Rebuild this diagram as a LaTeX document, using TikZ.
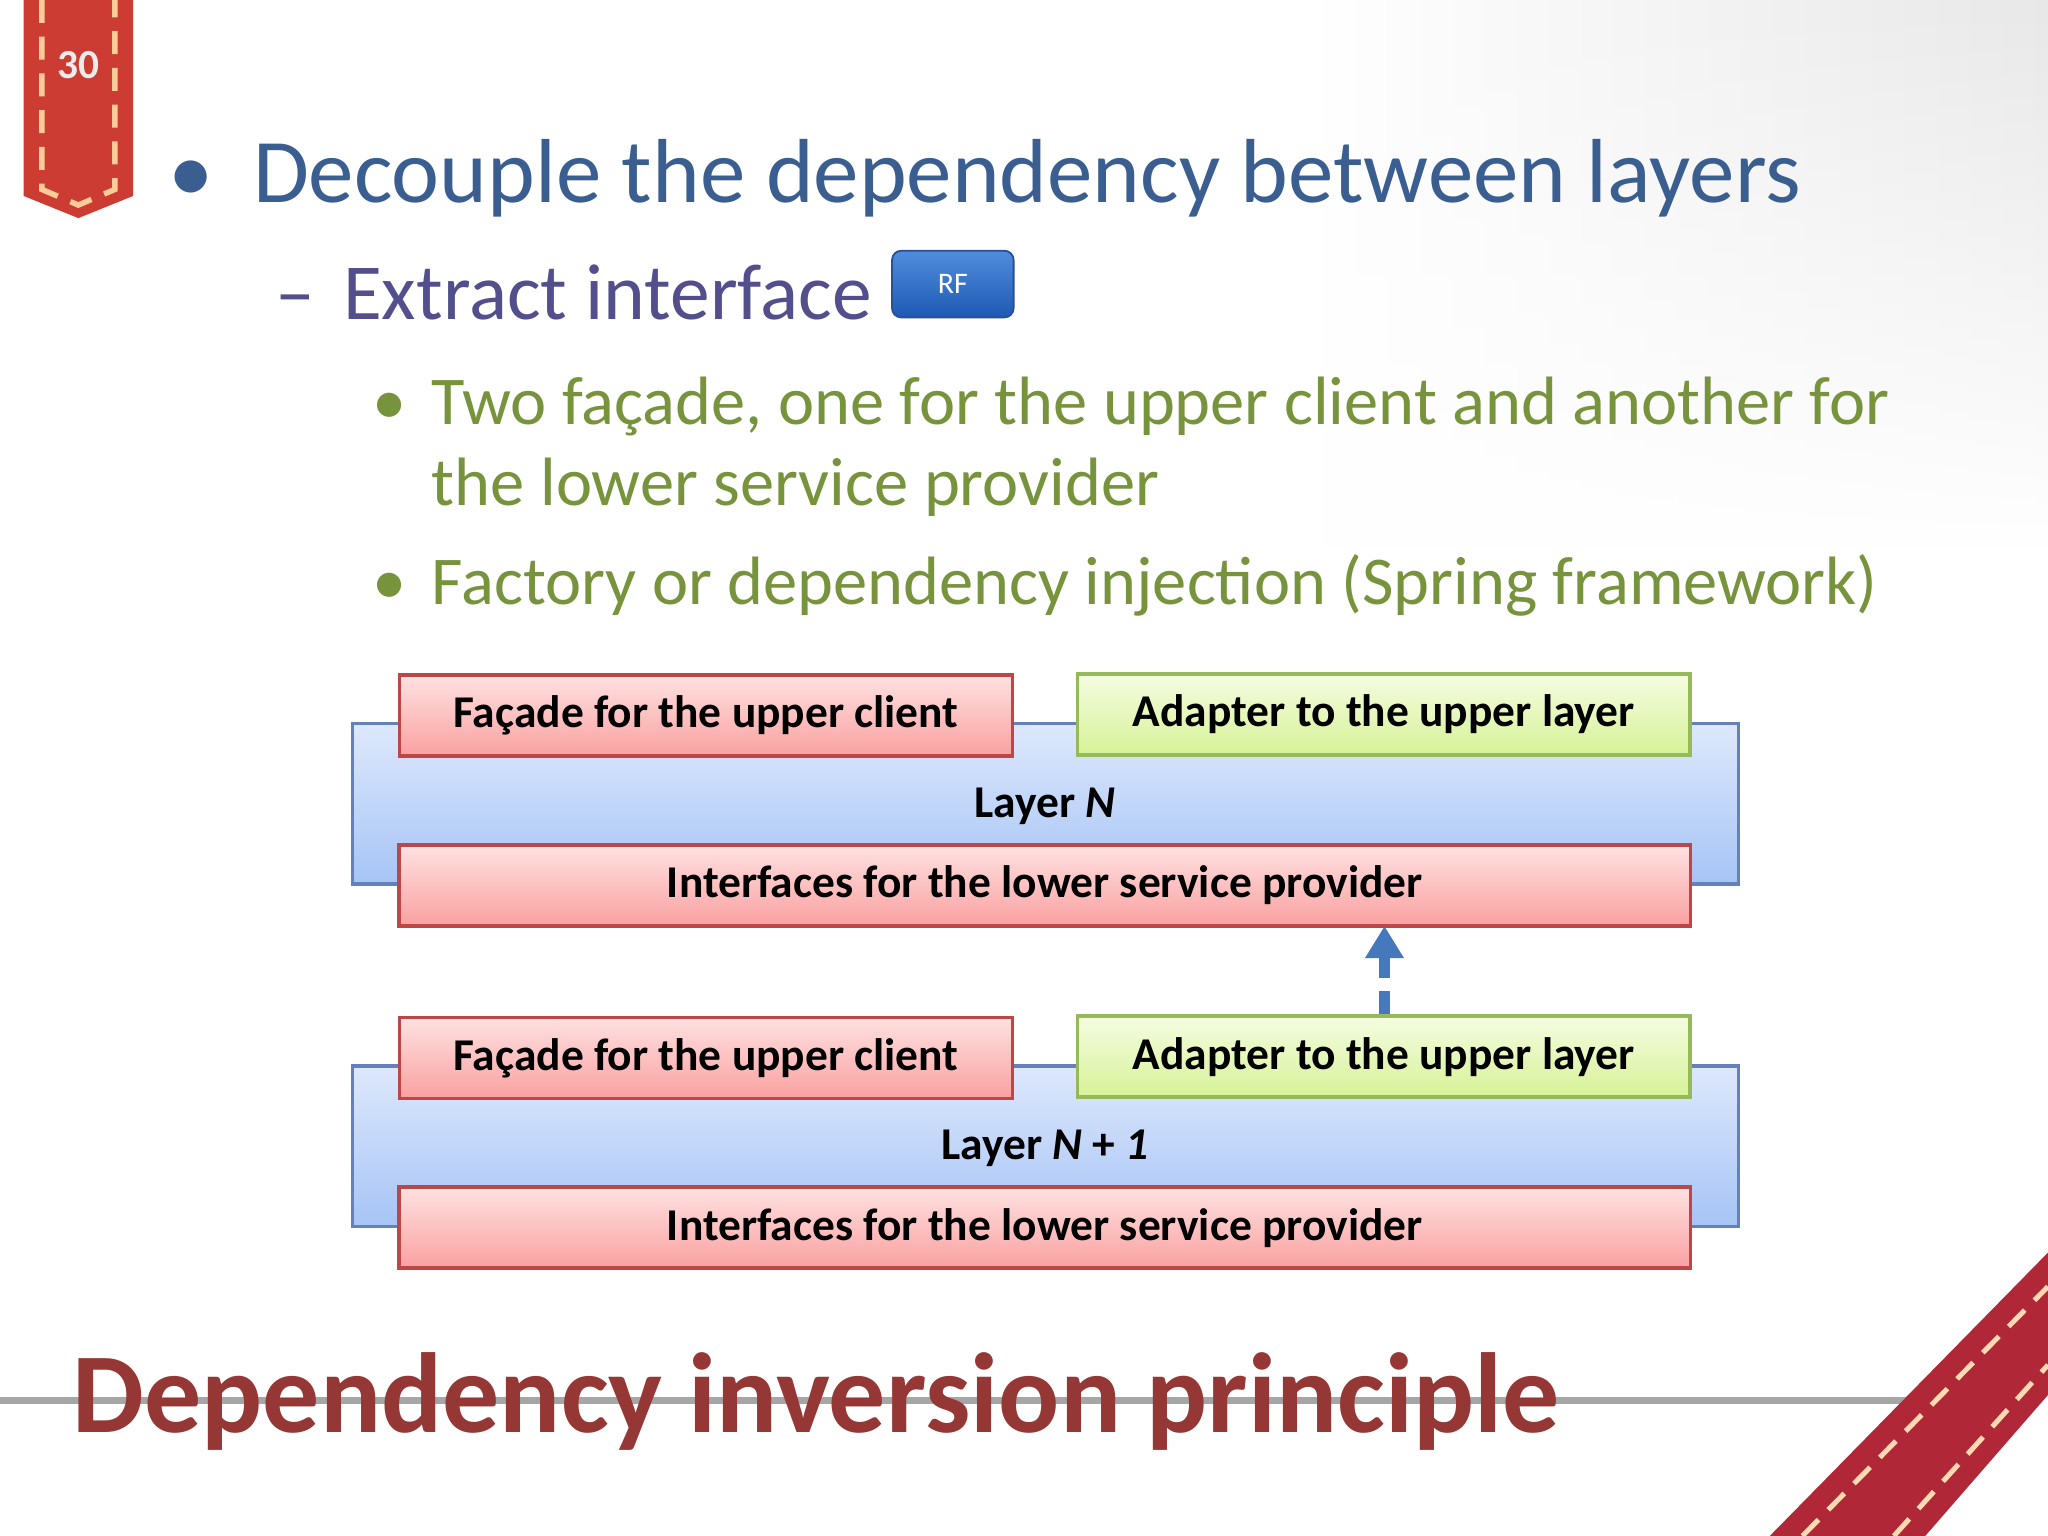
\documentclass[tikz,border=0pt]{standalone}
\usepackage{fontspec}
\setmainfont{Carlito}
\usetikzlibrary{arrows.meta,fadings}
\definecolor{tblue}{RGB}{59,94,145}
\definecolor{tpurple}{RGB}{82,79,140}
\definecolor{tgreen}{RGB}{119,147,60}
\definecolor{tred}{RGB}{149,55,53}
\definecolor{arrblue}{RGB}{70,120,190}
\definecolor{ribred}{RGB}{176,40,55}
\definecolor{ribred2}{RGB}{205,60,50}
\definecolor{rfdark}{RGB}{40,80,150}
\definecolor{rftop}{RGB}{80,140,220}
\definecolor{rfbot}{RGB}{30,90,180}
\definecolor{laytop}{RGB}{222,232,252}
\definecolor{laybot}{RGB}{166,196,245}
\definecolor{layedge}{RGB}{100,130,185}
\definecolor{redtop}{RGB}{255,225,225}
\definecolor{redbot}{RGB}{250,160,160}
\definecolor{rededge}{RGB}{190,70,70}
\definecolor{grtop}{RGB}{245,252,225}
\definecolor{grbot}{RGB}{215,242,150}
\definecolor{gredge}{RGB}{150,185,90}
\begin{document}
\begin{tikzpicture}[x=0.01cm,y=-0.01cm,
  layer/.style={draw=layedge, line width=0.8pt, top color=laytop, bottom color=laybot},
  redbox/.style={draw=rededge, line width=0.8pt, top color=redtop, bottom color=redbot, font=\fontsize{9.9}{12}\selectfont\bfseries, inner sep=0pt, minimum height=0.62cm},
  greenbox/.style={draw=gredge, line width=0.8pt, top color=grtop, bottom color=grbot, font=\fontsize{9.9}{12}\selectfont\bfseries, inner sep=0pt, minimum height=0.62cm},
  ltext/.style={font=\fontsize{9.9}{12}\selectfont\bfseries}]
\useasboundingbox (0,0) rectangle (1568,1176);
\fill[white] (0,0) rectangle (1568,1176);
\shade[left color=white, right color=gray!18, path fading=south] (1000,0) rectangle (1568,420);
% ribbon top-left
\fill[ribred2] (18,0) -- (102,0) -- (102,150) -- (60,167) -- (18,150) -- cycle;
\draw[orange!40!white, line width=1.2pt, dash pattern=on 5pt off 3pt] (32,0) -- (32,145) -- (60,157) -- (88,145) -- (88,0);
\node[text=gray!15, font=\fontsize{9}{11}\selectfont\bfseries] (pg) at (60,50) {30};
% texts
\node[text=tblue, font=\fontsize{19.8}{24}\selectfont, anchor=base] (bul) at (146,155) {\textbullet};
\node[text=tblue, font=\fontsize{19.8}{24}\selectfont, anchor=base west, inner sep=0pt] (t1) at (193,155) {Decouple the dependency between layers};
\node[text=tpurple, font=\fontsize{17.3}{20}\selectfont, anchor=base west, inner sep=0pt] (dash) at (210,245) {–};
\node[text=tpurple, font=\fontsize{17.3}{20}\selectfont, anchor=base west, inner sep=0pt] (t2) at (262,245) {Extract interface};
\node[draw=rfdark, rounded corners=2pt, top color=rftop, bottom color=rfbot, minimum width=0.93cm, minimum height=0.51cm, text=white, font=\fontsize{6.5}{8}\selectfont, inner sep=0pt] (rf) at (729.5,217.5) {RF};
\node[text=tgreen, font=\fontsize{14.9}{18}\selectfont, anchor=base] (b1) at (298,325) {\textbullet};
\node[text=tgreen, font=\fontsize{14.9}{18}\selectfont, anchor=base west, inner sep=0pt] (b1a) at (330,325) {Two façade, one for the upper client and another for};
\node[text=tgreen, font=\fontsize{14.9}{18}\selectfont, anchor=base west, inner sep=0pt] (b1b) at (330,387) {the lower service provider};
\node[text=tgreen, font=\fontsize{14.9}{18}\selectfont, anchor=base] (b2) at (298,463) {\textbullet};
\node[text=tgreen, font=\fontsize{14.9}{18}\selectfont, anchor=base west, inner sep=0pt] (b2a) at (330,463) {Factory or dependency injection (Spring framework)};
% layers
\foreach \dy/\nm/\lab in {0/a/{Layer \textit{N}}, 262/b/{Layer \textit{N} + \textit{1}}}{
  \shade[layer] (270,554+\dy) rectangle (1331,677+\dy);
  \draw[layedge, line width=0.8pt] (270,554+\dy) rectangle (1331,677+\dy);
  \node[ltext] (lay\nm) at (800,617+\dy) {\lab};
  \node[redbox, minimum width=4.69cm] (fac\nm) at (540.5,548+\dy) {Façade for the upper client};
  \node[greenbox, minimum width=4.69cm] (ada\nm) at (1059.5,547+\dy) {Adapter to the upper layer};
  \node[redbox, minimum width=9.88cm] (int\nm) at (800,678+\dy) {Interfaces for the lower service provider};
}
\draw[arrblue, line width=2.2pt, dash pattern=on 5pt off 3pt, -{Triangle[length=7pt,width=8pt]}] (adab.north) ++(0.5,0) -- (1060,709);
% title
\draw[gray!70, line width=1.5pt] (0,1072) -- (1480,1072);
\node[text=tred, font=\fontsize{24.8}{28}\selectfont\bfseries, anchor=base west, inner sep=0pt] (title) at (55,1097) {Dependency inversion principle};
% bottom-right ribbon
\fill[ribred] (1355,1176) -- (1568,959) -- (1568,1068) -- (1474,1176) -- cycle;
\draw[orange!30!white, line width=1.1pt, dash pattern=on 5pt off 3pt] (1380,1176) -- (1568,985);
\draw[orange!30!white, line width=1.1pt, dash pattern=on 5pt off 3pt] (1450,1176) -- (1568,1045);
\end{tikzpicture}
\end{document}
